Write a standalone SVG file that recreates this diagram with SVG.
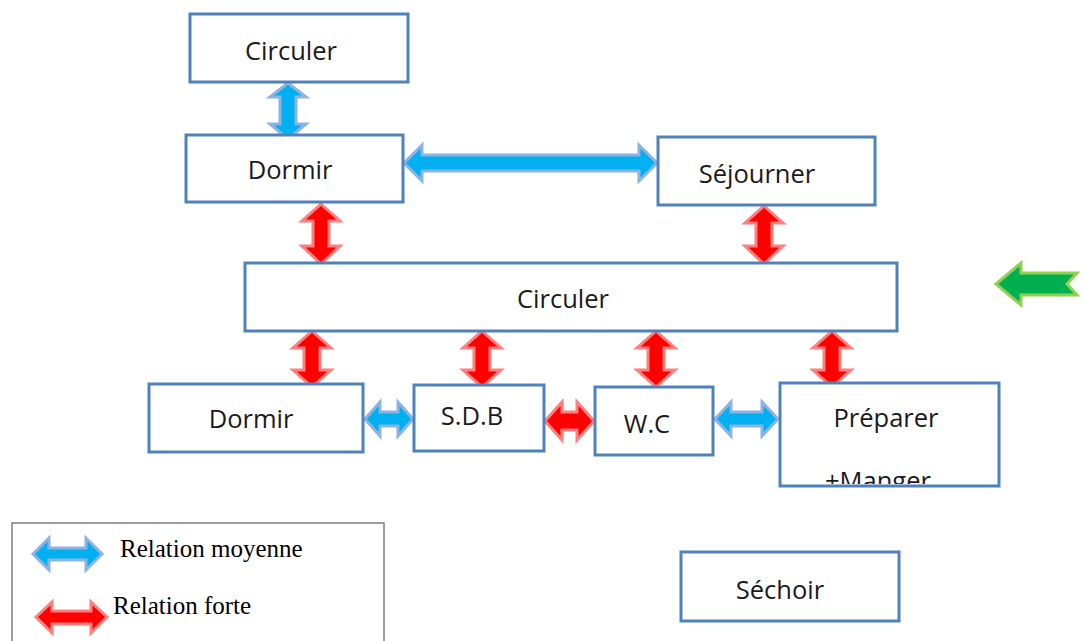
<svg xmlns="http://www.w3.org/2000/svg" width="1086" height="641" viewBox="0 0 1086 641">
<style>
.box{fill:#fff;stroke:#4f81bd;stroke-width:3}
.lbl{font-family:"Open Sans","Noto Sans",sans-serif;font-size:25.5px;fill:#1a1a1a;text-anchor:middle}
.leg{font-family:"Liberation Serif","Times New Roman",serif;font-size:25px;fill:#000}
.blue{fill:#00b0f0;stroke:#8db3e2;stroke-width:3;stroke-linejoin:miter}
.red{fill:#ff0000;stroke:#ff7f7f;stroke-width:3;stroke-linejoin:miter}
.green{fill:#00b050;stroke:#92d050;stroke-width:3}
</style>
<defs>
<clipPath id="clipPrep"><rect x="781" y="384" width="217" height="100"/></clipPath>
</defs>
<rect width="1086" height="641" fill="#fff"/>
<g id="connectors">
<polygon class="blue" points="288,83 306,97 296,97 296,124 306,124 288,139 270,124 280,124 280,97 270,97"/>
<polygon class="blue" points="404,163 422,145 422,155 639,155 639,145 657,163 639,181 639,171 422,171 422,181"/>
<polygon class="red" points="321,204 340,221 329,221 329,246 340,246 321,264 302,246 313,246 313,221 302,221"/>
<polygon class="red" points="764,206 783,223 772,223 772,246 783,246 764,264 745,246 756,246 756,223 745,223"/>
<polygon class="red" points="312,331 331,348 320,348 320,370 331,370 312,387 293,370 304,370 304,348 293,348"/>
<polygon class="red" points="482,331 501,348 490,348 490,370 501,370 482,387 463,370 474,370 474,348 463,348"/>
<polygon class="red" points="656,331 675,348 664,348 664,370 675,370 656,387 637,370 648,370 648,348 637,348"/>
<polygon class="red" points="832,331 851,348 840,348 840,370 851,370 832,387 813,370 824,370 824,348 813,348"/>
<polygon class="blue" points="365,419 380,402 380,412 398,412 398,402 413,419 398,436 398,426 380,426 380,436"/>
<polygon class="red" points="545,421 562,402 562,412 577,412 577,402 594,421 577,440 577,430 562,430 562,440"/>
<polygon class="blue" points="715,419 731,402 731,412 762,412 762,402 778,419 762,436 762,426 731,426 731,436"/>
</g>
<g id="n-circuler-top"><rect class="box" x="190" y="14" width="218" height="68"/><text class="lbl" x="291" y="60">Circuler</text></g>
<g id="n-dormir-top"><rect class="box" x="186" y="135" width="217" height="67"/><text class="lbl" x="290" y="179">Dormir</text></g>
<g id="n-sejourner"><rect class="box" x="658" y="137" width="217" height="68"/><text class="lbl" x="757" y="183">Séjourner</text></g>
<g id="n-circuler-big"><rect class="box" x="245" y="263" width="652" height="68"/><text class="lbl" x="563" y="308">Circuler</text></g>
<g id="n-dormir-bottom"><rect class="box" x="149" y="384" width="214" height="68"/><text class="lbl" x="251" y="428">Dormir</text></g>
<g id="n-sdb"><rect class="box" x="414" y="385" width="130" height="66"/><text class="lbl" x="472" y="425">S.D.B</text></g>
<g id="n-wc"><rect class="box" x="595" y="387" width="118" height="68"/><text class="lbl" x="647" y="433">W.C</text></g>
<g id="n-preparer"><rect class="box" x="780" y="383" width="219" height="103"/><text class="lbl" x="886" y="427">Préparer</text><text class="lbl" x="825" y="490" style="text-anchor:start" clip-path="url(#clipPrep)">+Manger</text></g>
<g id="n-sechoir"><rect class="box" x="681" y="552" width="218" height="69"/><text class="lbl" x="780" y="599">Séchoir</text></g>
<g id="green-arrow"><polygon class="green" points="996,284 1021,263 1021,273 1077,273 1067,284 1077,295 1021,295 1021,305"/></g>
<g id="legend">
<rect x="12" y="523" width="372" height="130" fill="none" stroke="#7f7f7f" stroke-width="1.5"/>
<polygon class="blue" points="33,554 49,538 49,548 86,548 86,538 102,554 86,570 86,560 49,560 49,570"/>
<text class="leg" x="120" y="557">Relation moyenne</text>
<polygon class="red" points="36,617 52,602 52,611 91,611 91,602 107,617 91,633 91,624 52,624 52,633"/>
<text class="leg" x="113" y="614">Relation forte</text>
</g>
</svg>
